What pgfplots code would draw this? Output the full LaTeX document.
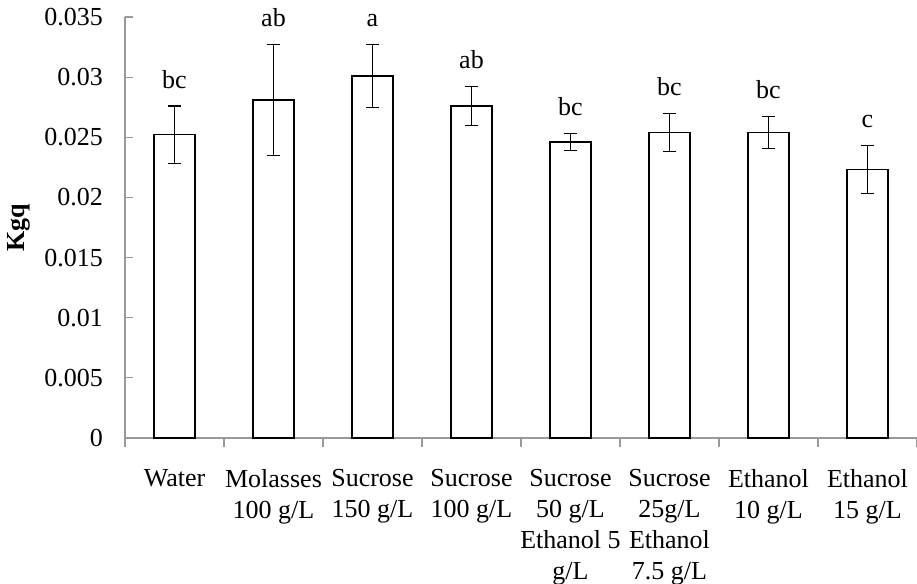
\documentclass[border=0pt]{standalone}
\usepackage{pgfplots}
\pgfplotsset{compat=1.18}
\usepackage{fontspec}
\setmainfont{Liberation Serif}
\begin{document}
\begin{tikzpicture}
\begin{axis}[
  scale only axis,
  width=396pt, height=210.5pt,
  xmin=-0.5, xmax=7.5,
  ymin=0, ymax=0.035,
  axis x line=bottom, axis y line=left,
  axis line style={gray!80, line width=0.6pt, -},
  xtick={0,...,7},
  xticklabels={Water, Molasses\\100 g/L, Sucrose\\150 g/L, Sucrose\\100 g/L,
    Sucrose\\50 g/L\\Ethanol 5\\g/L, Sucrose\\25g/L\\Ethanol\\7.5 g/L,
    Ethanol\\10 g/L, Ethanol\\15 g/L},
  x tick label style={align=center, font=\fontsize{13}{15.5}\selectfont, yshift=-8pt},
  major x tick style={draw=none},
  minor xtick={-0.5,0.5,...,7.5},
  minor x tick style={gray!80, line width=0.6pt},
  scaled y ticks=false,
  ytick={0,0.005,0.01,0.015,0.02,0.025,0.03,0.035},
  yticklabels={0,0.005,0.01,0.015,0.02,0.025,0.03,0.035},
  y tick label style={font=\fontsize{13}{15.5}\selectfont, xshift=-7.5pt},
  y tick style={gray!80, line width=0.6pt},
  ytick align=inside,
  xtick align=outside,
  minor tick length=4.5pt,
  major tick length=4pt,
  ylabel={\textbf{Kgq}},
  ylabel style={font=\fontsize{13}{15.5}\selectfont},
  clip=false,
]
  \addplot[ybar, bar width=20.5pt, fill=white, draw=black, line width=0.6pt,
    error bars/.cd, y dir=both, y explicit,
    error bar style={black, line width=0.6pt},
    error mark options={rotate=90, mark size=3.25pt, line width=0.6pt, black}]
    coordinates {
      (0,0.0252) +- (0,0.0024)
      (1,0.0281) +- (0,0.0046)
      (2,0.0301) +- (0,0.0026)
      (3,0.0276) +- (0,0.0016)
      (4,0.0246) +- (0,0.0007)
      (5,0.0254) +- (0,0.0016)
      (6,0.0254) +- (0,0.0013)
      (7,0.0223) +- (0,0.0020)
    };
  \addplot[only marks, mark=none, nodes near coords, point meta=explicit symbolic,
    every node near coord/.append style={anchor=base, yshift=9pt,
      font=\fontsize{13}{15.5}\selectfont, inner sep=0pt}]
    coordinates {
      (0,0.0276) [bc]
      (1,0.0327) [ab]
      (2,0.0327) [a]
      (3,0.0292) [ab]
      (4,0.0253) [bc]
      (5,0.0270) [bc]
      (6,0.0267) [bc]
      (7,0.0243) [c]
    };
\end{axis}
\pgfresetboundingbox
\path[use as bounding box] (-62.5pt,-73pt) rectangle (396pt,219pt);
\end{tikzpicture}
\end{document}
